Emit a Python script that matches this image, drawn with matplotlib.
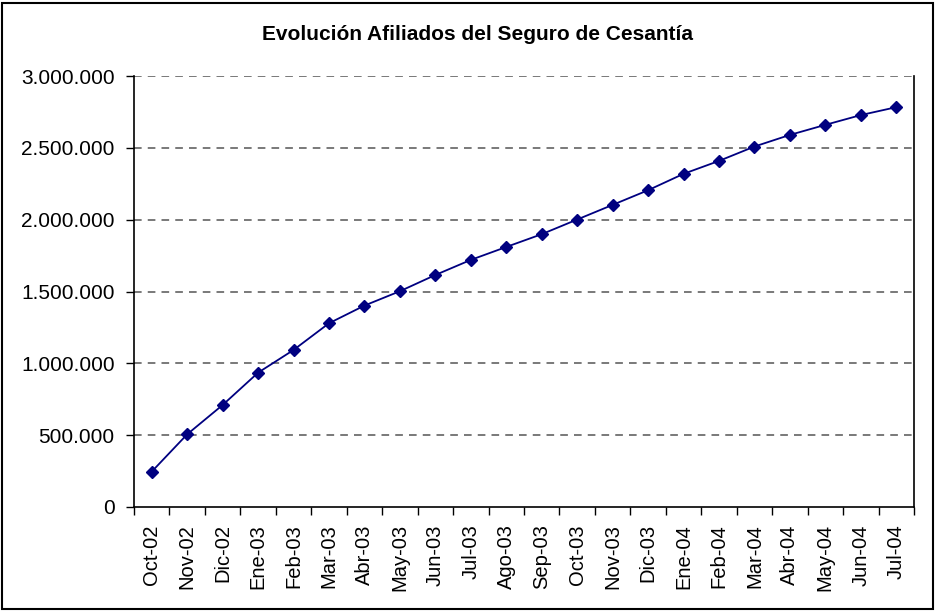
import matplotlib
matplotlib.use("Agg")
import matplotlib.pyplot as plt
from matplotlib.patches import Rectangle
from matplotlib.ticker import FuncFormatter, FixedLocator

plt.rcParams['font.family'] = ['Liberation Sans', 'DejaVu Sans']

months = ["Oct-02", "Nov-02", "Dic-02", "Ene-03", "Feb-03", "Mar-03", "Abr-03",
          "May-03", "Jun-03", "Jul-03", "Ago-03", "Sep-03", "Oct-03", "Nov-03",
          "Dic-03", "Ene-04", "Feb-04", "Mar-04", "Abr-04", "May-04", "Jun-04", "Jul-04"]
afiliados = [246000, 506000, 710000, 935000, 1093000, 1279000, 1402000,
             1502000, 1615000, 1720000, 1810000, 1899000, 2001000, 2103000,
             2205000, 2319000, 2409000, 2509000, 2590000, 2660000, 2728000, 2783000]
yticks = [0, 500000, 1000000, 1500000, 2000000, 2500000, 3000000]
title = "Evolución Afiliados del Seguro de Cesantía"

fig = plt.figure(figsize=(9.36, 6.11), dpi=100)
ax = fig.add_axes([134/936, 1-507/611, (914-134)/936, (507-76)/611])

x = list(range(len(months)))
ax.plot(x, afiliados, color="#000080", lw=1.3, marker="D", markersize=6.5,
        markerfacecolor="#000080", markeredgecolor="#000080", zorder=3)

ax.set_xlim(-0.5, len(months) - 0.5)
ax.set_ylim(0, 3000000)
ax.set_yticks(yticks)
ax.yaxis.set_major_formatter(FuncFormatter(lambda v, p: f"{int(v):,}".replace(",", ".")))
for t in yticks[1:]:
    ax.axhline(t, color="#555555", lw=1.1, ls=(0, (5, 4)), zorder=1)

ax.xaxis.set_major_locator(FixedLocator([i - 0.5 for i in range(len(months) + 1)]))
ax.xaxis.set_ticklabels([])
ax.xaxis.set_minor_locator(FixedLocator(x))
ax.xaxis.set_ticklabels(months, minor=True, rotation=90)
ax.tick_params(axis="x", which="minor", length=0, labelsize=14.5, pad=12.5)
ax.tick_params(axis="x", which="major", length=6, width=1, direction="out")
ax.tick_params(axis="y", length=6, width=1, direction="out", labelsize=15, pad=8)

ax.spines["top"].set_visible(False)
for s in ["left", "bottom", "right"]:
    ax.spines[s].set_color("black")
    ax.spines[s].set_linewidth(1.2)

fig.text(477.5/936, 1-35/611, title, ha="center", va="center", fontsize=15, fontweight="bold")

fig.patches.append(Rectangle((2/936, 2/611), 931/936, 606/611, transform=fig.transFigure,
                             fill=False, edgecolor="black", lw=1.5))

fig.savefig("out.png", dpi=100)
